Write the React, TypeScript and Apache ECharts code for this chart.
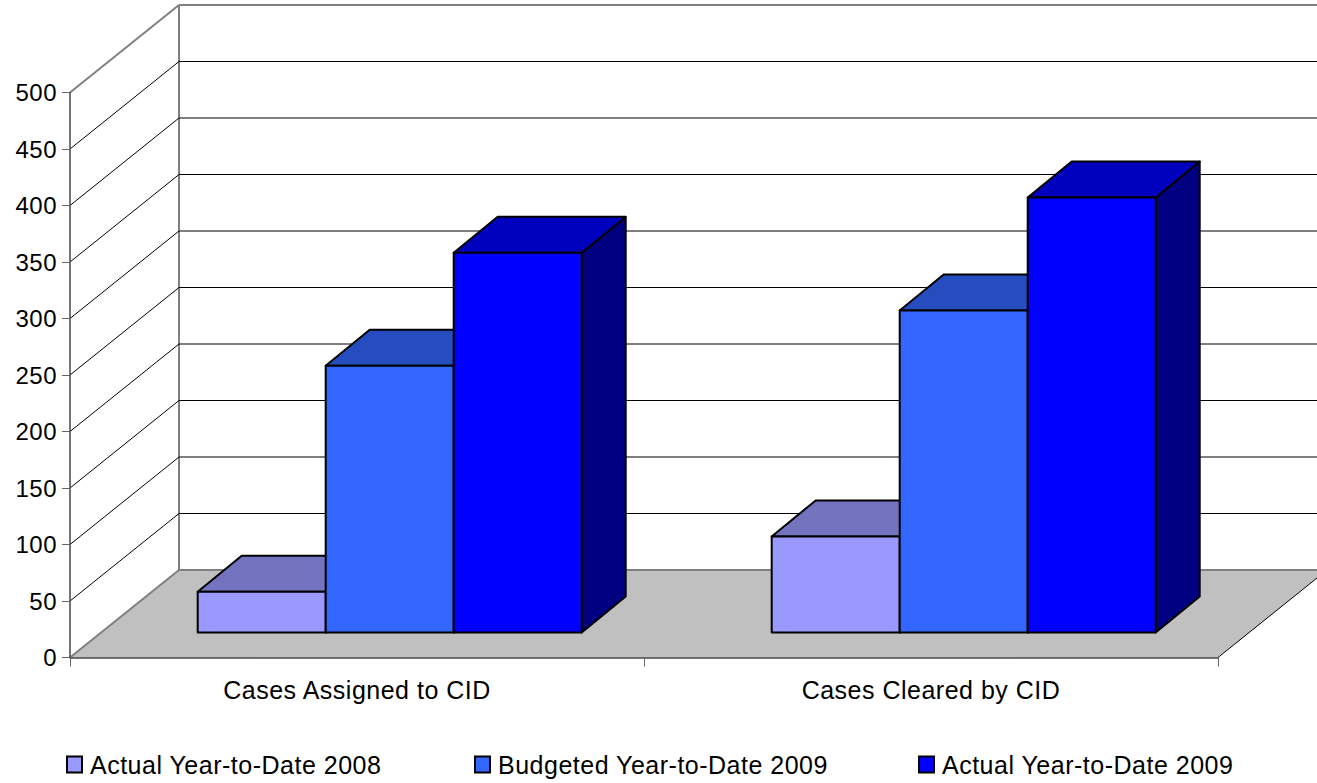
import React, { useEffect, useRef } from "react";
import * as echarts from "echarts";

const categories = ["Cases Assigned to CID", "Cases Cleared by CID"];
const seriesNames = ["Actual Year-to-Date 2008", "Budgeted Year-to-Date 2009", "Actual Year-to-Date 2009"];
const actual2008 = [36, 85];
const budgeted2009 = [236, 285];
const actual2009 = [336, 385];
const yTicks = [0, 50, 100, 150, 200, 250, 300, 350, 400, 450, 500];

const frontColors = ["#9999ff", "#3366ff", "#0000ff"];
const topColors = ["#7373bf", "#264dbf", "#0000bf"];
const sideColors = ["#7373bf", "#264dbf", "#000080"];

const FONT = "'Liberation Sans', Arial, sans-serif";
const WALL_DX = 109;
const WALL_DY = 87.5;
const BAR_SHIFT_X = 32.7;
const BAR_SHIFT_Y = 25;
const BAR_W = 128;
const BAR_DX = 44;
const BAR_DY = 36;

function barSeries(name: string, values: number[], idx: number) {
  return {
    type: "custom",
    name,
    z: 3 + idx,
    itemStyle: { color: frontColors[idx] },
    data: values.map((v, i) => [i, v]),
    encode: { x: 0, y: 1 },
    renderItem: (_p: any, api: any) => {
      const top = api.coord([api.value(0), api.value(1)]);
      const base = api.coord([api.value(0), 0]);
      const x0 = top[0] + BAR_SHIFT_X + (idx - 1.5) * BAR_W;
      const x1 = x0 + BAR_W;
      const yT = top[1] - BAR_SHIFT_Y;
      const yB = base[1] - BAR_SHIFT_Y;
      const stroke = { stroke: "#000", lineWidth: 2, lineJoin: "round" };
      return {
        type: "group",
        children: [
          {
            type: "polygon",
            shape: { points: [[x1, yT], [x1 + BAR_DX, yT - BAR_DY], [x1 + BAR_DX, yB - BAR_DY], [x1, yB]] },
            style: { fill: sideColors[idx], ...stroke },
          },
          {
            type: "polygon",
            shape: { points: [[x0, yT], [x0 + BAR_DX, yT - BAR_DY], [x1 + BAR_DX, yT - BAR_DY], [x1, yT]] },
            style: { fill: topColors[idx], ...stroke },
          },
          {
            type: "polygon",
            shape: { points: [[x0, yT], [x1, yT], [x1, yB], [x0, yB]] },
            style: { fill: frontColors[idx], ...stroke },
          },
        ],
      };
    },
  };
}

const legendLefts = [66, 474, 918];

export default function App() {
  const ref = useRef<HTMLDivElement>(null);
  useEffect(() => {
    const chart = echarts.init(ref.current!, null, { renderer: "svg" });
    chart.setOption({
      animation: false,
      backgroundColor: "#fff",
      textStyle: { fontFamily: FONT },
      grid: { left: 70, right: 99, top: 92.5, bottom: 125.5, containLabel: false },
      xAxis: {
        type: "category",
        data: categories,
        z: 3,
        axisLine: { lineStyle: { color: "#444", width: 1.5 } },
        axisTick: { show: true, alignWithLabel: false, length: 9, lineStyle: { color: "#666", width: 1 } },
        axisLabel: { color: "#000", fontSize: 25, fontFamily: FONT, margin: 20 },
        splitLine: { show: false },
      },
      yAxis: {
        type: "value",
        min: 0,
        max: 500,
        interval: 50,
        z: 3,
        axisLine: { show: true, lineStyle: { color: "#444", width: 1.5 } },
        axisTick: { show: true, length: 8, lineStyle: { color: "#666", width: 1 } },
        axisLabel: { color: "#000", fontSize: 24, fontFamily: FONT, margin: 13, padding: [2, 0, 0, 0] },
        splitLine: { show: false },
      },
      legend: seriesNames.map((n, i) => ({
        data: [n],
        left: legendLefts[i],
        top: 752,
        padding: 0,
        itemWidth: 15,
        itemHeight: 16,
        selectedMode: false,
        icon: "rect",
        itemStyle: { borderColor: "#000", borderWidth: 2 },
        textStyle: { color: "#000", fontSize: 25, fontFamily: FONT, padding: [0, 0, 0, 3] },
      })),
      series: [
        {
          type: "custom",
          name: "walls",
          z: 1,
          silent: true,
          data: yTicks.map((v) => [0, v]),
          encode: { x: 0, y: 1 },
          renderItem: (p: any, api: any) => {
            const v = api.value(1);
            const y = api.coord([0, v])[1];
            const left = p.coordSys.x;
            const right = left + p.coordSys.width;
            const bx = left + WALL_DX;
            const by = y - WALL_DY;
            const children: any[] = [];
            if (v === 0) {
              children.push({
                type: "polygon",
                shape: { points: [[left, y], [bx, by], [right + WALL_DX, by], [right, y]] },
                style: { fill: "#c0c0c0", stroke: "none" },
              });
              children.push({
                type: "line",
                shape: { x1: right, y1: y, x2: right + WALL_DX, y2: by },
                style: { stroke: "#000", lineWidth: 1 },
              });
              const top = api.coord([0, 500])[1] - WALL_DY;
              children.push({
                type: "line",
                shape: { x1: bx, y1: top, x2: bx, y2: by },
                style: { stroke: "#808080", lineWidth: 2 },
              });
            }
            const edge = v === 0 || v === 500;
            const stroke = edge ? "#808080" : "#000";
            const lw = edge ? 2 : 1;
            children.push({
              type: "line",
              shape: { x1: left, y1: y, x2: bx, y2: by },
              style: { stroke, lineWidth: lw },
            });
            children.push({
              type: "line",
              shape: { x1: bx, y1: by, x2: right + WALL_DX, y2: by },
              style: { stroke, lineWidth: lw },
            });
            return { type: "group", children };
          },
        },
        barSeries(seriesNames[0], actual2008, 0),
        barSeries(seriesNames[1], budgeted2009, 1),
        barSeries(seriesNames[2], actual2009, 2),
      ],
    });
    return () => chart.dispose();
  }, []);
  return (
    <div
      ref={ref}
      style={{ position: "absolute", left: 0, top: 0, width: 1317, height: 783, letterSpacing: "0.5px", overflow: "hidden" }}
    />
  );
}
